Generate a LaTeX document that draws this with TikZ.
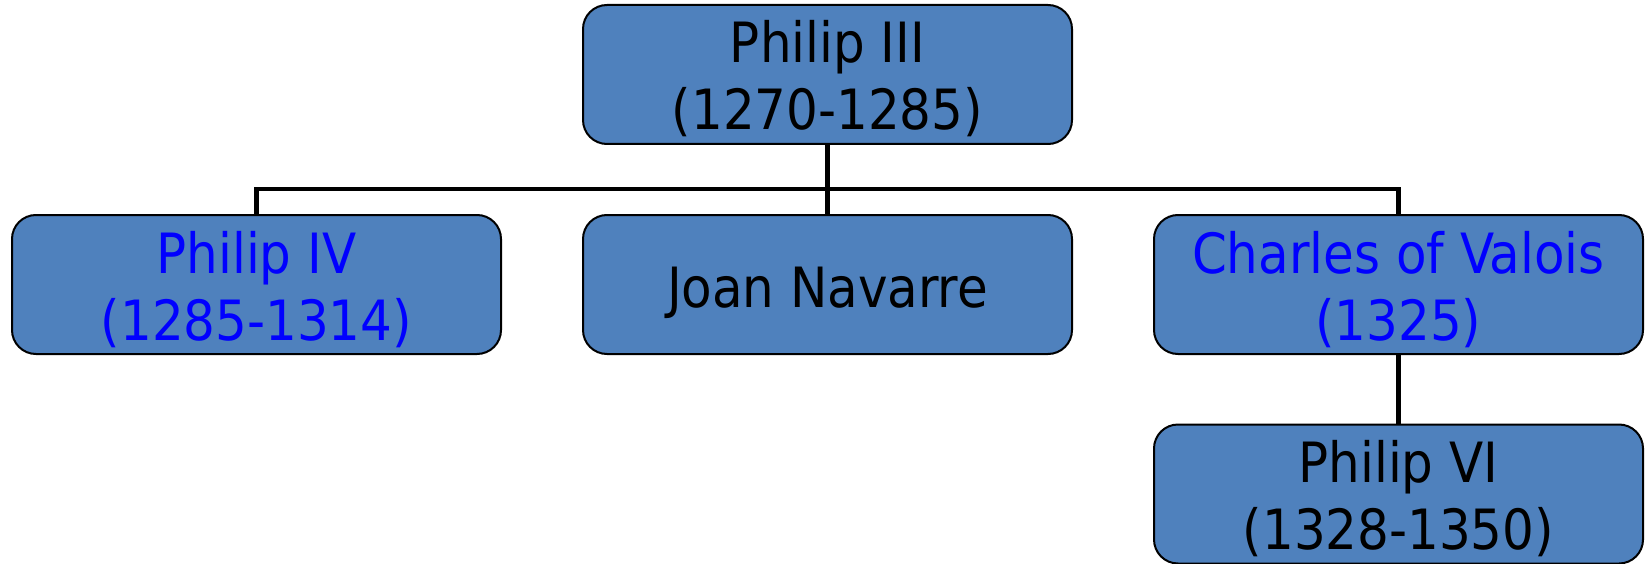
\documentclass[tikz,border=0pt]{standalone}
\usepackage{fontspec}
\setmainfont{DejaVu Sans Condensed}
\definecolor{boxblue}{HTML}{4F81BD}
\definecolor{txtblue}{HTML}{0000FF}
\newcommand{\twolines}[2]{\raisebox{11.5pt}[0pt][0pt]{\begin{tabular}[t]{@{}c@{}}#1\\#2\end{tabular}}}
\newcommand{\oneline}[1]{\raisebox{-22.5pt}[0pt][0pt]{#1}}
\tikzset{
  person/.style={draw=black, line width=2pt, fill=boxblue, rounded corners=24pt,
    minimum width=489pt, minimum height=139pt, inner sep=0pt,
    font=\fontsize{55.5}{67}\selectfont},
  conn/.style={draw=black, line width=4.5pt}
}
\begin{document}
\begin{tikzpicture}[x=1pt,y=-1pt]
\useasboundingbox (0,0) rectangle (1648,564);
\node[person] (p3) at (827.5,74.5) {\twolines{Philip III}{(1270-1285)}};
\node[person, text=txtblue] (p4) at (256.5,284.5) {\twolines{Philip IV}{(1285-1314)}};
\node[person] (joan) at (827.5,284.5) {\oneline{Joan Navarre}};
\node[person, text=txtblue] (charles) at (1398.5,284.5) {\twolines{Charles of Valois}{(1325)}};
\node[person] (p6) at (1398.5,494) {\twolines{Philip VI}{(1328-1350)}};
\coordinate (bus) at (827.5,189);
\draw[conn] (p3.south) -- (joan.north);
\draw[conn] (p4.north) |- (bus) -| (charles.north);
\draw[conn] (charles.south) -- (p6.north);
\end{tikzpicture}
\end{document}
